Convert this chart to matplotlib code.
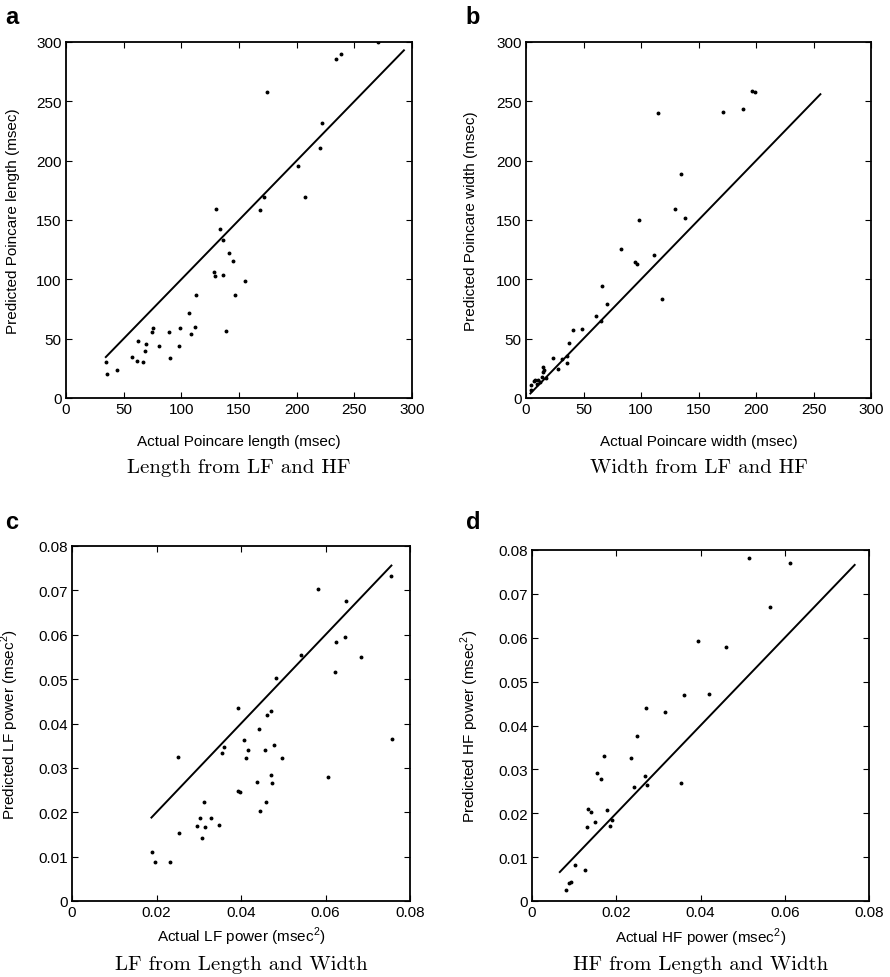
import matplotlib.pyplot as plt
import numpy as np

plt.rcParams['font.family'] = 'Liberation Sans'
plt.rcParams['mathtext.fontset'] = 'custom'
plt.rcParams['mathtext.rm'] = 'Liberation Sans'
plt.rcParams['axes.formatter.use_mathtext'] = False

# ---- panel a: length ----
len_actual = [270.5, 233.7, 238.6, 174.1, 222.2, 220.4, 200.8, 206.8, 171.5, 167.8,
              130.2, 133.4, 136.0, 140.9, 145.2, 128.7, 129.0, 136.2, 155.3, 113.1,
              146.1, 106.7, 111.7, 108.2, 98.6, 98.1, 89.4, 90.0, 75.5, 74.9,
              80.7, 69.1, 68.6, 62.5, 67.1, 61.6, 57.3, 138.6, 44.3, 35.0, 35.6]
len_pred = [300.0, 286.0, 289.6, 257.9, 232.0, 210.4, 195.8, 169.4, 169.4, 158.4,
            159.0, 142.4, 132.9, 122.5, 115.7, 106.2, 102.5, 103.7, 98.9, 86.5,
            86.5, 71.6, 59.8, 54.2, 59.3, 44.1, 55.9, 34.0, 59.3, 55.3,
            44.1, 45.2, 39.6, 47.8, 30.1, 31.5, 34.3, 56.2, 23.6, 30.3, 20.2]
len_line = [34.5, 293.0]

# ---- panel b: width ----
wid_actual = [196.6, 198.7, 188.5, 171.2, 115.0, 134.4, 129.5, 137.9, 97.9, 82.5,
              111.2, 94.4, 96.4, 66.3, 117.9, 70.4, 61.1, 65.2, 41.1, 48.9,
              37.4, 23.2, 31.3, 35.9, 35.6, 27.5, 15.1, 14.8, 13.9, 17.4,
              6.7, 7.5, 9.6, 4.3, 4.3, 12.5, 16.0, 10.5]
wid_pred = [258.4, 257.6, 243.3, 241.3, 240.2, 188.8, 159.0, 151.4, 150.0, 125.6,
            120.2, 114.3, 112.9, 94.4, 83.4, 78.9, 69.4, 64.6, 57.6, 58.4,
            46.6, 33.7, 33.1, 35.1, 29.5, 24.7, 26.1, 21.9, 17.7, 17.1,
            14.3, 14.9, 11.5, 10.7, 7.0, 13.5, 24.0, 15.5]
wid_line = [3.8, 256.0]

# ---- panel c: LF power ----
lf_actual = [0.0754, 0.0757, 0.0582, 0.0648, 0.0647, 0.0624, 0.0622, 0.0683, 0.0542, 0.0606,
             0.0484, 0.0392, 0.0470, 0.0461, 0.0442, 0.0406, 0.0477, 0.0417, 0.0456, 0.0360,
             0.0356, 0.0412, 0.0496, 0.0251, 0.0470, 0.0473, 0.0437, 0.0394, 0.0398, 0.0458,
             0.0444, 0.0312, 0.0304, 0.0330, 0.0297, 0.0314, 0.0347, 0.0308, 0.0253, 0.0190,
             0.0197, 0.0232]
lf_pred = [0.0732, 0.0364, 0.0704, 0.0675, 0.0595, 0.0584, 0.0517, 0.0550, 0.0554, 0.0279,
           0.0502, 0.0434, 0.0429, 0.0419, 0.0388, 0.0363, 0.0352, 0.0340, 0.0340, 0.0346,
           0.0333, 0.0322, 0.0323, 0.0325, 0.0283, 0.0266, 0.0269, 0.0247, 0.0245, 0.0223,
           0.0202, 0.0224, 0.0188, 0.0187, 0.0170, 0.0167, 0.0172, 0.0142, 0.0154, 0.0111,
           0.0087, 0.0089]
lf_line = [0.0188, 0.0756]

# ---- panel d: HF power ----
hf_actual = [0.0515, 0.0613, 0.0564, 0.0393, 0.0460, 0.0360, 0.0421, 0.0271, 0.0315, 0.0249,
             0.0171, 0.0235, 0.0154, 0.0164, 0.0268, 0.0353, 0.0241, 0.0273, 0.0134, 0.0139,
             0.0179, 0.0150, 0.0190, 0.0184, 0.0131, 0.0103, 0.0126, 0.0093, 0.0089, 0.0081]
hf_pred = [0.0781, 0.0771, 0.0670, 0.0592, 0.0578, 0.0470, 0.0472, 0.0439, 0.0431, 0.0377,
           0.0331, 0.0326, 0.0292, 0.0279, 0.0286, 0.0269, 0.0260, 0.0264, 0.0209, 0.0203,
           0.0208, 0.0180, 0.0184, 0.0172, 0.0168, 0.0082, 0.0071, 0.0043, 0.0041, 0.0024]
hf_line = [0.0066, 0.0766]

W, H = 890, 978

panels = [
    # letter, rect in pixels (left, top, right, bottom), data, limit, labels, caption, label offsets
    ('a', (66, 43, 412, 399), len_actual, len_pred, len_line, 300,
     'Actual Poincare length (msec)', 'Predicted Poincare length (msec)', 'Length from LF and HF',
     -0.100, -0.133),
    ('b', (526, 43, 871, 399), wid_actual, wid_pred, wid_line, 300,
     'Actual Poincare width (msec)', 'Predicted Poincare width (msec)', 'Width from LF and HF',
     -0.100, -0.139),
    ('c', (72, 547, 410, 902), lf_actual, lf_pred, lf_line, 0.08,
     'Actual LF power (msec$^2$)', 'Predicted LF power (msec$^2$)', 'LF from Length and Width',
     -0.068, -0.150),
    ('d', (532, 551, 869, 902), hf_actual, hf_pred, hf_line, 0.08,
     'Actual HF power (msec$^2$)', 'Predicted HF power (msec$^2$)', 'HF from Length and Width',
     -0.069, -0.150),
]

fig = plt.figure(figsize=(W / 100, H / 100), dpi=100)

for (letter, (l, t, r, b), xs, ys, line, lim, xlab, ylab, cap, xl_y, yl_x) in panels:
    ax = fig.add_axes([l / W, 1 - b / H, (r - l) / W, (b - t) / H])
    ax.plot(xs, ys, linestyle='none', marker='o', markersize=1.8, color='black')
    ax.plot(line, line, color='black', linewidth=1.4)
    ax.set_xlim(0, lim)
    ax.set_ylim(0, lim)
    if lim == 300:
        t_all = np.arange(0, 301, 50)
        ax.set_xticks(t_all)
        ax.set_yticks(t_all)
        ax.set_xticklabels([str(v) for v in t_all])
        ax.set_yticklabels([str(v) for v in t_all])
    else:
        xt = [0, 0.02, 0.04, 0.06, 0.08]
        yt = [0, 0.01, 0.02, 0.03, 0.04, 0.05, 0.06, 0.07, 0.08]
        ax.set_xticks(xt)
        ax.set_yticks(yt)
        ax.set_xticklabels(['0', '0.02', '0.04', '0.06', '0.08'])
        ax.set_yticklabels(['0'] + ['%.2f' % v for v in yt[1:]])
    ax.tick_params(direction='in', top=True, right=True, length=4, width=0.8,
                   labelsize=11, pad=3, colors='black')
    for s in ax.spines.values():
        s.set_linewidth(1.3)
    ax.set_xlabel(xlab, fontsize=11)
    ax.set_ylabel(ylab, fontsize=11)
    ax.xaxis.set_label_coords(0.5, xl_y)
    ax.yaxis.set_label_coords(yl_x, 0.5)
    cx = (l + r) / 2 / W
    cap_y = 468 if letter in 'ab' else 965
    fig.text(cx, 1 - cap_y / H, cap, ha='center', va='center', fontsize=15,
             family='cmr10')
    lx = 12 if letter in 'ac' else 473
    ly = 17 if letter in 'ab' else 523
    fig.text(lx / W, 1 - ly / H, letter, ha='center', va='center', fontsize=17,
             fontweight='bold')

fig.savefig('out.png', dpi=100)
